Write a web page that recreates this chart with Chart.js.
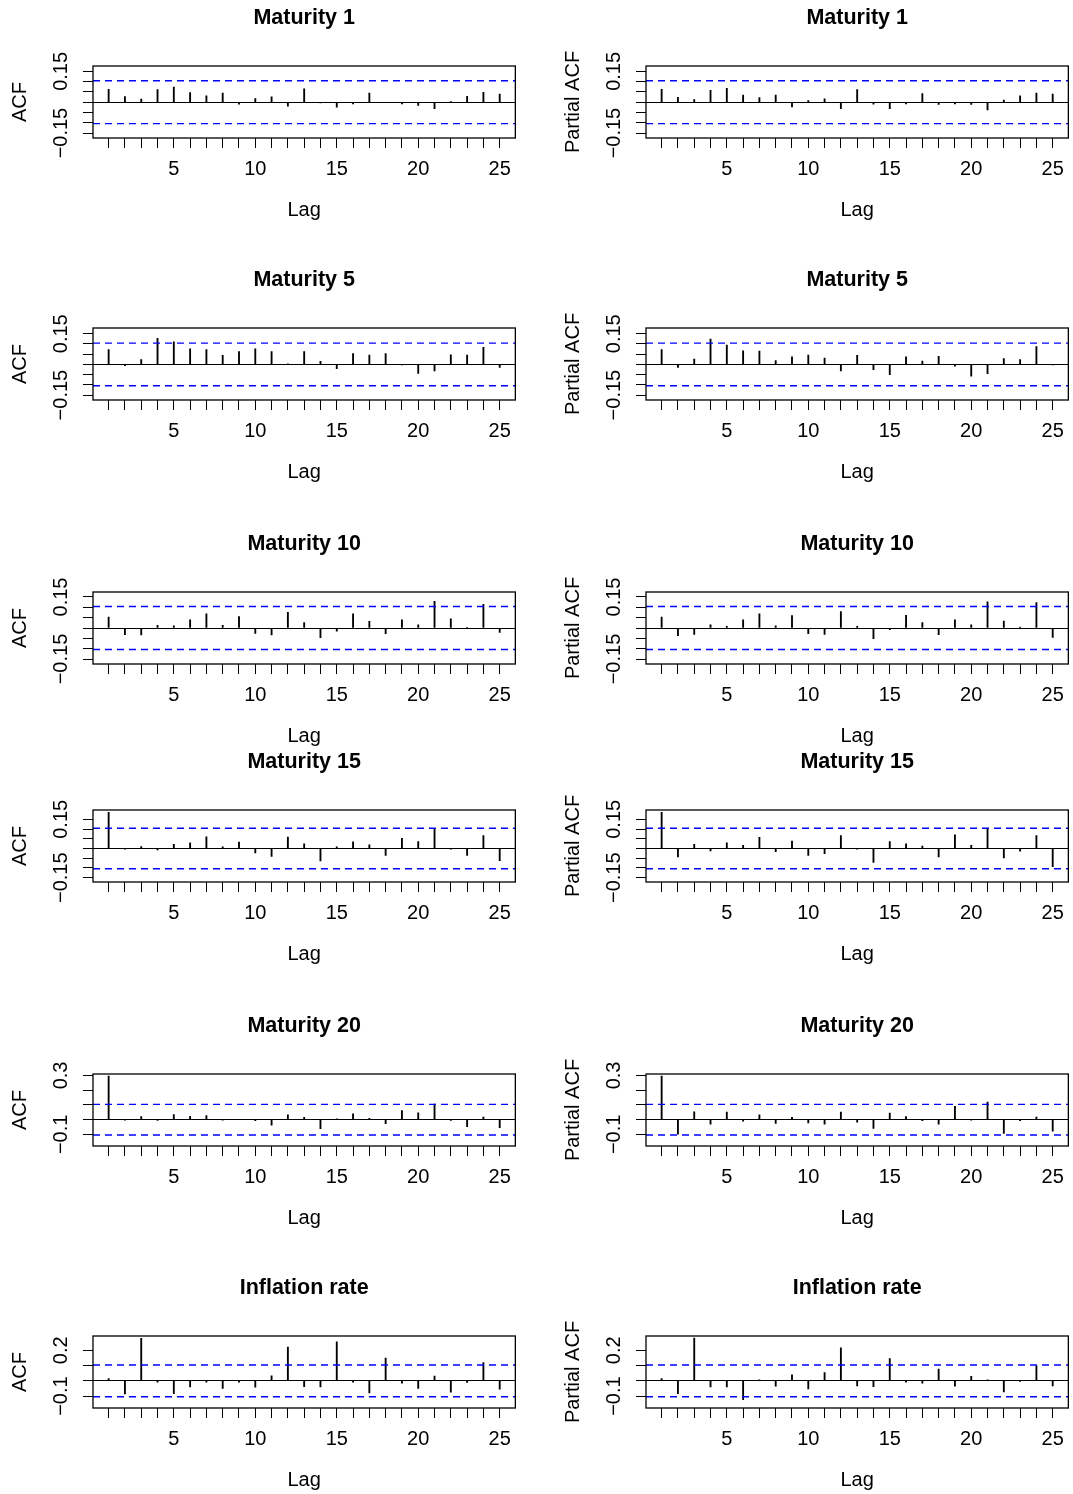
<!DOCTYPE html>
<html>
<head>
<meta charset="utf-8">
<script src="https://cdn.jsdelivr.net/npm/chart.js@4.4.1/dist/chart.umd.min.js"></script>
<style>
  html, body { margin: 0; padding: 0; background: #fff; }
  #page { position: relative; width: 1073px; height: 1494px; overflow: hidden; background: #fff; }
  #page canvas { position: absolute; }
</style>
</head>
<body>
<div id="page"></div>
<script>
// Lags and x tick labels
const lags = [1, 2, 3, 4, 5, 6, 7, 8, 9, 10, 11, 12, 13, 14, 15, 16, 17, 18, 19, 20, 21, 22, 23, 24, 25];
const xTickLabels = ["", "", "", "", "5", "", "", "", "", "10", "", "", "", "", "15", "", "", "", "", "20", "", "", "", "", "25"];

// 95% bound (blue dashed)
const ciBound = 0.104;

// Series
const acfMat1   = [0.063, 0.027, 0.015, 0.061, 0.074, 0.047, 0.031, 0.044, -0.010, 0.018, 0.026, -0.019, 0.065, -0.003, -0.024, -0.008, 0.044, -0.002, -0.008, -0.016, -0.032, 0.003, 0.029, 0.048, 0.039];
const pacfMat1  = [0.063, 0.024, 0.013, 0.058, 0.068, 0.035, 0.023, 0.035, -0.023, 0.008, 0.016, -0.031, 0.061, -0.010, -0.031, -0.008, 0.042, -0.011, -0.008, -0.011, -0.037, 0.010, 0.031, 0.044, 0.040];
const acfMat5   = [0.073, -0.006, 0.024, 0.127, 0.110, 0.076, 0.073, 0.044, 0.063, 0.076, 0.063, 0.002, 0.063, 0.015, -0.021, 0.053, 0.045, 0.053, -0.003, -0.044, -0.032, 0.047, 0.045, 0.084, -0.015];
const pacfMat5  = [0.073, -0.015, 0.026, 0.124, 0.094, 0.066, 0.065, 0.019, 0.037, 0.045, 0.031, -0.032, 0.044, -0.026, -0.050, 0.037, 0.016, 0.039, -0.008, -0.058, -0.045, 0.029, 0.024, 0.087, -0.003];
const acfMat10  = [0.053, -0.032, -0.034, 0.013, 0.010, 0.039, 0.069, 0.013, 0.055, -0.026, -0.034, 0.076, 0.026, -0.047, -0.015, 0.068, 0.032, -0.027, 0.039, 0.015, 0.129, 0.044, 0.003, 0.115, -0.021];
const pacfMat10 = [0.053, -0.037, -0.031, 0.015, 0.008, 0.039, 0.069, 0.010, 0.060, -0.027, -0.031, 0.079, 0.008, -0.052, -0.008, 0.061, 0.026, -0.032, 0.040, 0.015, 0.127, 0.034, 0.005, 0.123, -0.045];
const acfMat15  = [0.186, -0.003, 0.010, -0.007, 0.022, 0.029, 0.060, 0.009, 0.033, -0.022, -0.040, 0.059, 0.024, -0.064, 0.009, 0.034, 0.019, -0.036, 0.053, 0.036, 0.103, -0.003, -0.036, 0.066, -0.062];
const pacfMat15 = [0.186, -0.043, 0.021, -0.012, 0.029, 0.017, 0.057, -0.016, 0.038, -0.036, -0.026, 0.067, -0.003, -0.071, 0.036, 0.024, 0.012, -0.043, 0.071, 0.016, 0.105, -0.048, -0.014, 0.066, -0.093];
const acfMat20  = [0.296, -0.002, 0.021, -0.005, 0.034, 0.023, 0.028, -0.002, 0.000, -0.007, -0.037, 0.032, 0.016, -0.062, 0.005, 0.039, 0.009, -0.028, 0.062, 0.046, 0.106, -0.005, -0.048, 0.018, -0.055];
const pacfMat20 = [0.296, -0.099, 0.053, -0.030, 0.051, -0.011, 0.032, -0.025, 0.016, -0.023, -0.030, 0.051, -0.018, -0.060, 0.044, 0.021, -0.007, -0.030, 0.090, -0.002, 0.120, -0.094, -0.007, 0.018, -0.078];
const acfInfl   = [0.015, -0.086, 0.278, -0.009, -0.084, -0.040, -0.009, -0.049, -0.009, -0.042, 0.033, 0.221, -0.038, -0.040, 0.256, -0.009, -0.079, 0.150, -0.015, -0.049, 0.031, -0.075, -0.011, 0.119, -0.055];
const pacfInfl  = [0.015, -0.084, 0.280, -0.040, -0.040, -0.124, 0.007, -0.035, 0.040, -0.053, 0.055, 0.216, -0.033, -0.038, 0.146, -0.009, -0.015, 0.077, -0.035, 0.029, 0.007, -0.073, -0.002, 0.099, -0.033];

const titles = ["Maturity 1", "Maturity 5", "Maturity 10", "Maturity 15", "Maturity 20", "Inflation rate"];
const acfRows  = [acfMat1, acfMat5, acfMat10, acfMat15, acfMat20, acfInfl];
const pacfRows = [pacfMat1, pacfMat5, pacfMat10, pacfMat15, pacfMat20, pacfInfl];

// y ticks per row
const yTicksSmall  = [-0.15, -0.1, -0.05, 0, 0.05, 0.1, 0.15];
const yLabelsSmall = ["\u22120.15", "", "", "", "", "", "0.15"];
const yTicksMat20  = [-0.1, 0, 0.1, 0.2, 0.3];
const yLabelsMat20 = ["\u22120.1", "", "", "", "0.3"];
const yTicksInfl   = [-0.1, 0, 0.1, 0.2];
const yLabelsInfl  = ["\u22120.1", "", "", "0.2"];
const rowYTicks  = [yTicksSmall, yTicksSmall, yTicksSmall, yTicksSmall, yTicksMat20, yTicksInfl];
const rowYLabels = [yLabelsSmall, yLabelsSmall, yLabelsSmall, yLabelsSmall, yLabelsMat20, yLabelsInfl];
const rowYMin = [-0.174, -0.174, -0.174, -0.172, -0.179, -0.178];
const rowYMax = [0.176, 0.178, 0.174, 0.198, 0.310, 0.294];

// layout
const rowTops = [0, 262, 526, 744, 1008, 1270];
const colLefts = [0, 553];
const X_MIN = 0.04, X_MAX = 25.96;
const FONT = '"Liberation Sans", Arial, Helvetica, sans-serif';
const FS = 20;

const page = document.getElementById("page");
const meas = document.createElement("canvas").getContext("2d");
meas.font = `${FS}px ${FONT}`;

// box round the plot region
const frame = {
    id: "frame",
    afterDraw(c) {
        const { ctx, chartArea: a } = c;
        ctx.save();
        ctx.strokeStyle = "#000";
        ctx.lineWidth = 1.3;
        ctx.strokeRect(a.left, a.top, a.right - a.left, a.bottom - a.top);
        ctx.restore();
    }
};

function panel(row, col, vals, ylab) {
    const cv = document.createElement("canvas");
    cv.width = 520; cv.height = 230;
    cv.style.left = colLefts[col] + "px";
    cv.style.top = rowTops[row] + "px";
    page.appendChild(cv);

    const yt = rowYTicks[row], yl = rowYLabels[row];
    const widest = Math.max(...yl.map(s => meas.measureText(s).width));
    const ciLine = y => ({
        type: "line", data: [{ x: X_MIN, y }, { x: X_MAX, y }],
        borderColor: "#0000ff", borderWidth: 1.4, borderDash: [7, 5],
        pointRadius: 0, order: 0
    });

    new Chart(cv, {
        type: "bar",
        data: {
            datasets: [
                ciLine(ciBound),
                ciLine(-ciBound),
                {
                    type: "bar",
                    data: lags.map((l, i) => ({ x: l, y: vals[i] })),
                    backgroundColor: "#000", borderWidth: 0,
                    barThickness: 1.2, order: 1
                }
            ]
        },
        options: {
            responsive: false, animation: false, events: [],
            layout: { padding: { left: 0, right: 2, top: 0, bottom: 0 } },
            plugins: {
                legend: { display: false }, tooltip: { enabled: false },
                title: {
                    display: true, text: titles[row], fullSize: false, color: "#000",
                    font: { family: FONT, size: 21.5, weight: "bold", lineHeight: "24px" },
                    padding: { top: 6, bottom: 36 }
                }
            },
            scales: {
                x: {
                    type: "linear", min: X_MIN, max: X_MAX, offset: false,
                    afterBuildTicks: s => { s.ticks = lags.map(v => ({ value: v })); },
                    afterFit: s => { s.height = 92; },
                    grid: { drawOnChartArea: false, offset: false, color: "#000", tickLength: 10, lineWidth: 1 },
                    border: { display: false },
                    ticks: {
                        autoSkip: false, maxRotation: 0, padding: 9, color: "#000",
                        font: { family: FONT, size: FS, lineHeight: "24px" },
                        callback: v => xTickLabels[lags.indexOf(v)] ?? ""
                    },
                    title: {
                        display: true, text: "Lag", color: "#000",
                        font: { family: FONT, size: FS, lineHeight: "24px" },
                        padding: { top: 0, bottom: 8 }
                    }
                },
                y: {
                    type: "linear", min: rowYMin[row], max: rowYMax[row],
                    afterBuildTicks: s => { s.ticks = yt.map(v => ({ value: v })); },
                    afterFit: s => { s.width = 93; },
                    grid: {
                        color: c => (c.tick && Math.abs(c.tick.value) < 1e-9) ? "#000" : "rgba(0,0,0,0)",
                        tickColor: "#000", tickLength: 10, lineWidth: 1
                    },
                    border: { display: false },
                    ticks: {
                        autoSkip: false, minRotation: 90, maxRotation: 90, crossAlign: "center",
                        padding: 32 - 10 - widest / 2, color: "#000",
                        font: { family: FONT, size: FS },
                        callback: v => { const i = yt.findIndex(t => Math.abs(t - v) < 1e-9); return i < 0 ? "" : yl[i]; }
                    },
                    title: {
                        display: true, text: ylab, color: "#000",
                        font: { family: FONT, size: FS, lineHeight: "24px" },
                        padding: { top: 8, bottom: 0 }
                    }
                }
            }
        },
        plugins: [frame]
    });
}

titles.forEach((_, r) => {
    panel(r, 0, acfRows[r], "ACF");
    panel(r, 1, pacfRows[r], "Partial ACF");
});
</script>
</body>
</html>
